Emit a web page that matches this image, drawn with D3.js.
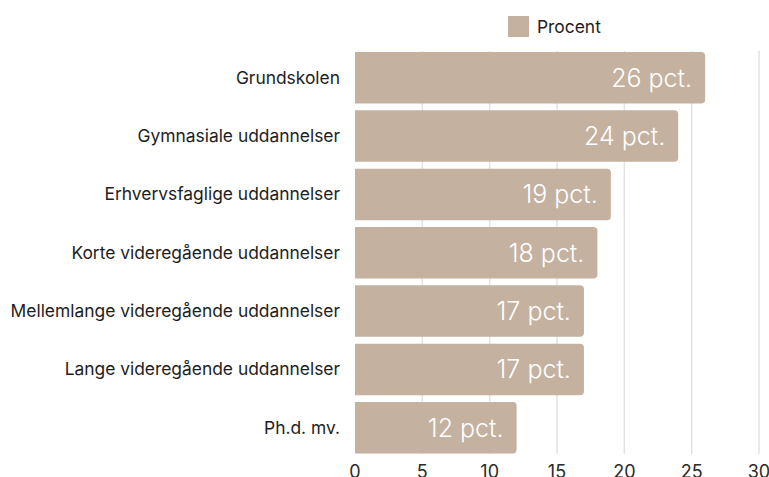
<!DOCTYPE html>
<html>
<head>
<meta charset="utf-8">
<script src="https://cdn.jsdelivr.net/npm/d3@7"></script>
<style>
  body { margin: 0; background: #fff; }
  text { font-family: Inter, "Noto Sans", sans-serif; }
</style>
</head>
<body>
<div id="chart"></div>
<script>
const categories = [
  'Grundskolen',
  'Gymnasiale uddannelser',
  'Erhvervsfaglige uddannelser',
  'Korte videregående uddannelser',
  'Mellemlange videregående uddannelser',
  'Lange videregående uddannelser',
  'Ph.d. mv.'
];
const values = [26, 24, 19, 18, 17, 17, 12];
const xTicks = [0, 5, 10, 15, 20, 25, 30];
const seriesName = 'Procent';

const width = 769, height = 477;
const barColor = '#c4b19f';

const svg = d3.select('#chart').append('svg')
  .attr('width', width).attr('height', height);

const x = d3.scaleLinear().domain([0, 30]).range([355, 759]);
const y = d3.scaleBand().domain(categories).range([48.6, 456.9])
  .paddingInner(0.117).paddingOuter(0.0585);

// gridlines
svg.append('g').selectAll('line')
  .data(xTicks.filter(d => d > 0))
  .enter().append('line')
  .attr('x1', d => x(d)).attr('x2', d => x(d))
  .attr('y1', 51).attr('y2', 454)
  .attr('stroke', '#e2e2e2').attr('stroke-width', 1.5);

// bars: square left side, rounded right side
const r = 4;
svg.append('g').selectAll('path')
  .data(values)
  .enter().append('path')
  .attr('fill', barColor)
  .attr('d', (d, i) => {
    const x0 = x(0), x1 = x(d), y0 = y(categories[i]), h = y.bandwidth();
    return `M${x0},${y0}H${x1 - r}Q${x1},${y0} ${x1},${y0 + r}V${y0 + h - r}Q${x1},${y0 + h} ${x1 - r},${y0 + h}H${x0}Z`;
  });

// value labels
svg.append('g').selectAll('text')
  .data(values)
  .enter().append('text')
  .attr('x', d => x(d) - 13)
  .attr('y', (d, i) => y(categories[i]) + y.bandwidth() / 2 + 9)
  .attr('text-anchor', 'end')
  .attr('fill', '#fff')
  .attr('font-size', 25)
  .attr('font-weight', 300)
  .text(d => d + ' pct.');

// category labels
svg.append('g').selectAll('text')
  .data(categories)
  .enter().append('text')
  .attr('x', 340)
  .attr('y', d => y(d) + y.bandwidth() / 2 + 6)
  .attr('text-anchor', 'end')
  .attr('fill', '#1e1e1e')
  .attr('font-size', 17.4)
  .text(d => d);

// x axis tick labels
svg.append('g').selectAll('text')
  .data(xTicks)
  .enter().append('text')
  .attr('x', d => x(d))
  .attr('y', 478)
  .attr('text-anchor', 'middle')
  .attr('fill', '#2a2a2a')
  .attr('font-size', 18)
  .text(d => d);

// legend
const legend = svg.append('g');
legend.append('rect')
  .attr('x', 508).attr('y', 16).attr('width', 21).attr('height', 21)
  .attr('fill', barColor);
legend.append('text')
  .attr('x', 537).attr('y', 33)
  .attr('fill', '#1e1e1e')
  .attr('font-size', 17.4)
  .text(seriesName);
</script>
</body>
</html>
